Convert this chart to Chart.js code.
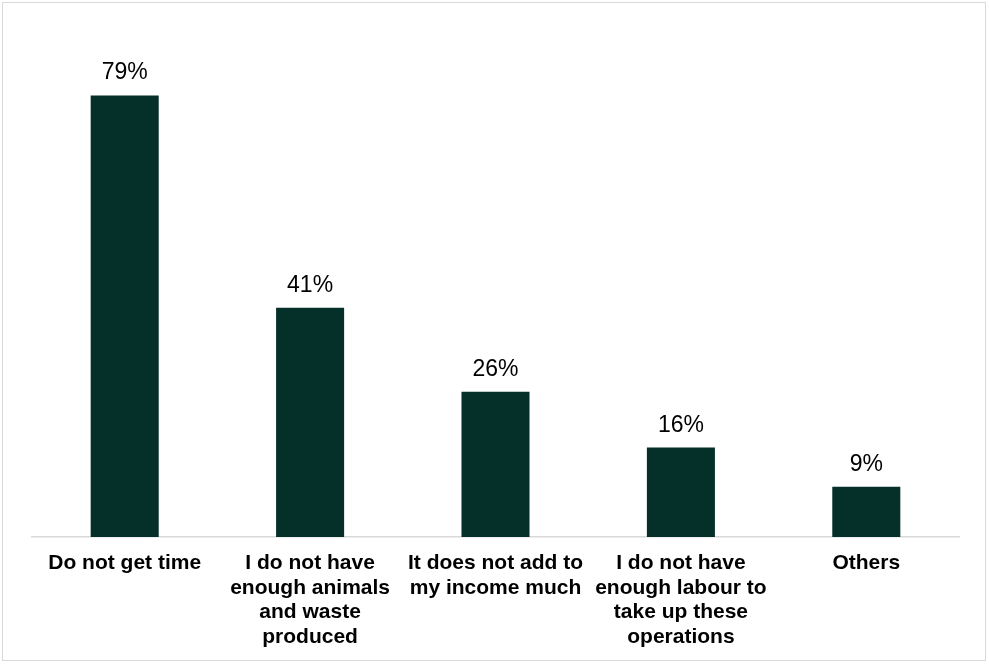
<!DOCTYPE html>
<html lang="en">
<head>
  <meta charset="UTF-8">
  <title>Reasons</title>
  <script src="https://cdn.jsdelivr.net/npm/chart.js"></script>
  <style>
    body { margin: 0; background: #fff; }
    #wrap { position: relative; width: 989px; height: 664px; }
    #frame { position: absolute; left: 2px; top: 2px; width: 982px; height: 657px; border: 1.5px solid #d9d9d9; pointer-events: none; }
  </style>
</head>
<body>
  <div id="wrap">
    <canvas id="reasonChart" width="989" height="664"></canvas>
    <div id="frame"></div>
  </div>

  <script>
    const categories = [
      'Do not get time',
      ['I do not have', 'enough animals', 'and waste', 'produced'],
      ['It does not add to', 'my income much'],
      ['I do not have', 'enough labour to', 'take up these', 'operations'],
      'Others'
    ];
    const shares = [79, 41, 26, 16, 9];

    const FONT = "'Liberation Sans', Arial, sans-serif";

    // percent labels above each bar
    const valueLabels = {
      id: 'valueLabels',
      afterDatasetsDraw(chart) {
        const ctx = chart.ctx;
        const meta = chart.getDatasetMeta(0);
        ctx.save();
        ctx.font = '23px ' + FONT;
        ctx.fillStyle = '#000';
        ctx.textAlign = 'center';
        ctx.textBaseline = 'alphabetic';
        meta.data.forEach((bar, i) => {
          ctx.fillText(shares[i] + '%', bar.x, bar.y - 16);
        });
        ctx.restore();
      }
    };

    const ctx = document.getElementById('reasonChart').getContext('2d');
    const chart = new Chart(ctx, {
      type: 'bar',
      data: {
        labels: categories,
        datasets: [{
          data: shares,
          backgroundColor: '#05302a',
          borderWidth: 0,
          barPercentage: 0.367,
          categoryPercentage: 1
        }]
      },
      options: {
        responsive: false,
        animation: false,
        layout: { padding: { left: 32, right: 30, top: 34, bottom: 1 } },
        plugins: {
          legend: { display: false },
          tooltip: { enabled: false }
        },
        scales: {
          x: {
            grid: { display: false, drawTicks: false },
            border: { display: true, color: '#d9d9d9', width: 1.5 },
            ticks: {
              color: '#000',
              padding: 14,
              maxRotation: 0,
              autoSkip: false,
              font: { family: FONT, size: 21, weight: 'bold', lineHeight: 1.167 }
            }
          },
          y: {
            display: false,
            min: 0,
            max: 90
          }
        }
      },
      plugins: [valueLabels]
    });
  </script>
</body>
</html>
